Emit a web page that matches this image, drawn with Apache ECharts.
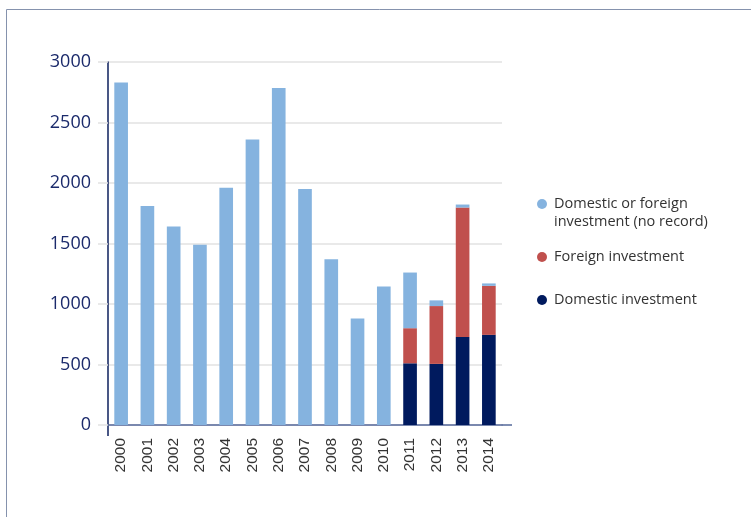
<!DOCTYPE html>
<html><head><meta charset="utf-8">
<script src="https://cdn.jsdelivr.net/npm/echarts@6/dist/echarts.min.js"></script>
<style>html,body{margin:0;padding:0;background:#fff}#c{width:751px;height:517px}</style>
</head><body><div id="c"></div>
<script>
const years = ['2000','2001','2002','2003','2004','2005','2006','2007','2008','2009','2010','2011','2012','2013','2014'];
const domestic = [0,0,0,0,0,0,0,0,0,0,0,510,505,727,745];
const foreign = [0,0,0,0,0,0,0,0,0,0,0,290,478,1070,405];
const noRecord = [2830,1810,1640,1490,1960,2360,2785,1950,1370,880,1145,460,47,25,20];
const yTicks = [0,500,1000,1500,2000,2500,3000];
const names = ['Domestic or foreign investment (no record)','Foreign investment','Domestic investment'];
const colors = ['#85B3DF','#C0504D','#001A5E'];

const chart = echarts.init(document.getElementById('c'), null, {renderer:'canvas'});
const legendText = {fontFamily:'Open Sans', fontSize:14.5, color:'#333', lineHeight:18};
const lg = {icon:'circle', itemWidth:14, itemHeight:10, itemGap:0, left:532, orient:'vertical', textStyle:legendText};
chart.setOption({
  animation:false,
  graphic:[
    {type:'rect', shape:{x:6.5,y:9.5,width:800,height:600}, style:{fill:'none', stroke:'#8592AD', lineWidth:1}},
    {type:'line', shape:{x1:108,y1:425,x2:108,y2:436}, style:{stroke:'#0D1F5C', lineWidth:1.5}},
    {type:'line', shape:{x1:501,y1:425,x2:512,y2:425}, style:{stroke:'#55689A', lineWidth:1.5}}
  ],
  grid:{left:108, top:62, right:249, bottom:92, containLabel:false},
  legend:[
    Object.assign({}, lg, {data:[names[0]], top:172,
     formatter:()=> ' \nDomestic or foreign\ninvestment (no record)'}),
    Object.assign({}, lg, {data:[names[1]], top:243}),
    Object.assign({}, lg, {data:[names[2]], top:286})
  ],
  xAxis:{type:'category', data:years,
    axisLine:{lineStyle:{color:'#55689A', width:1.5}},
    axisTick:{show:false},
    axisLabel:{rotate:90, margin:13, fontFamily:'Liberation Sans', fontSize:15.5, color:'#333'}},
  yAxis:{type:'value', min:0, max:3000, interval:500,
    axisLine:{show:true, lineStyle:{color:'#0D1F5C', width:1.5}},
    axisTick:{show:true, length:10, lineStyle:{color:'#E2E2E2', width:1.5}},
    splitLine:{lineStyle:{color:'#E2E2E2', width:1.5}},
    axisLabel:{margin:17, fontFamily:'Open Sans', fontSize:18, color:'#1B2A6B',
      formatter:(v)=> yTicks.includes(v) ? String(v) : ''}},
  series:[
    {name:names[2], type:'bar', stack:'t', data:domestic, barWidth:'52%', itemStyle:{color:colors[2]}},
    {name:names[1], type:'bar', stack:'t', data:foreign, itemStyle:{color:colors[1]}},
    {name:names[0], type:'bar', stack:'t', data:noRecord, itemStyle:{color:colors[0]}}
  ]
});
</script></body></html>
